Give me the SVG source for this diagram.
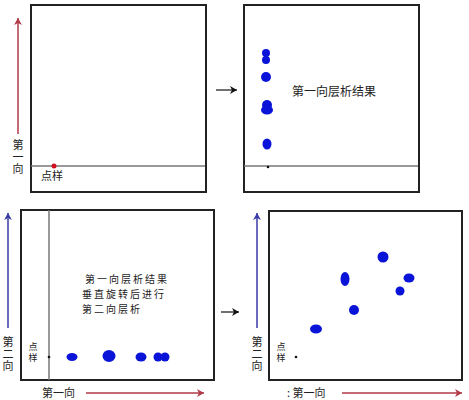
<svg xmlns="http://www.w3.org/2000/svg" width="469" height="400" viewBox="0 0 469 400">
<style>
.box{fill:#fff;stroke:#222;stroke-width:2}
.base{stroke:#777;stroke-width:1.5;fill:none}
.spot{fill:#0a14d8}
.t{font-family:"Noto Sans CJK SC","Noto Sans",sans-serif;font-size:11px;fill:#222}
.m{font-family:"Noto Sans CJK SC","Noto Sans",sans-serif;font-size:12px;fill:#222}
.m3{font-family:"Noto Sans CJK SC","Noto Sans",sans-serif;font-size:10px;letter-spacing:2px;fill:#222}
.v{font-family:"Noto Sans CJK SC","Noto Sans",sans-serif;font-size:11px;fill:#222;writing-mode:vertical-rl;letter-spacing:1px}
.vs{font-family:"Noto Sans CJK SC","Noto Sans",sans-serif;font-size:9px;fill:#222;writing-mode:vertical-rl;letter-spacing:2px}
.red{stroke:#b23a48;stroke-width:1.5;fill:none}
.blue{stroke:#3a3aa8;stroke-width:1.5;fill:none}
.blk{stroke:#111;stroke-width:1.2;fill:none}
</style>
<defs>
<marker id="hr" markerWidth="10" markerHeight="10" refX="8" refY="5" orient="auto" markerUnits="userSpaceOnUse"><path d="M1,1 L8,5 L1,9 L3,5 Z" fill="#b23a48"/></marker>
<marker id="hb" markerWidth="10" markerHeight="10" refX="8" refY="5" orient="auto" markerUnits="userSpaceOnUse"><path d="M1,1 L8,5 L1,9 L3,5 Z" fill="#3a3aa8"/></marker>
<marker id="hk" markerWidth="10" markerHeight="10" refX="8" refY="5" orient="auto" markerUnits="userSpaceOnUse"><path d="M1,1 L8,5 L1,9 L3,5 Z" fill="#111"/></marker>
</defs>
<rect width="469" height="400" fill="#fff"/>

<g id="panel1">
<rect class="box" x="31" y="5" width="175" height="187"/>
<line class="base" x1="31" y1="166" x2="205" y2="166"/>
<circle cx="54" cy="166" r="2.5" fill="#d01020"/>
<text class="t" x="41" y="180">点样</text>
</g>

<g id="panel2">
<rect class="box" x="244" y="5" width="175" height="187"/>
<line class="base" x1="244" y1="166" x2="418" y2="166"/>
<circle cx="268" cy="167" r="1.3" fill="#111"/>
<ellipse class="spot" cx="266" cy="53" rx="4" ry="4"/>
<ellipse class="spot" cx="266" cy="60" rx="4" ry="4"/>
<ellipse class="spot" cx="266" cy="77" rx="5" ry="5"/>
<ellipse class="spot" cx="267" cy="105" rx="5" ry="5"/>
<ellipse class="spot" cx="267" cy="110" rx="6" ry="4.5"/>
<ellipse class="spot" cx="267" cy="144" rx="4.5" ry="5.5"/>
<text class="m" x="292" y="96">第一向层析结果</text>
</g>

<g id="panel3">
<rect class="box" x="21" y="210" width="193" height="170"/>
<line class="base" x1="49" y1="210" x2="49" y2="380"/>
<circle cx="49" cy="357" r="1.3" fill="#111"/>
<text class="vs" x="33" y="342">点样</text>
<ellipse class="spot" cx="72" cy="357" rx="5.5" ry="4"/>
<ellipse class="spot" cx="109" cy="356" rx="6.5" ry="6"/>
<ellipse class="spot" cx="141" cy="357" rx="5.5" ry="4.5"/>
<ellipse class="spot" cx="158" cy="357" rx="4.5" ry="4.5"/>
<ellipse class="spot" cx="165" cy="357" rx="4.5" ry="4.5"/>
<text class="m3" x="85" y="283">第一向层析结果</text>
<text class="m3" x="82" y="297.8">垂直旋转后进行</text>
<text class="m3" x="82" y="312.6">第二向层析</text>
</g>

<g id="panel4">
<rect class="box" x="269" y="211" width="193" height="169"/>
<circle cx="296" cy="357" r="1.3" fill="#111"/>
<text class="vs" x="281" y="342">点样</text>
<ellipse class="spot" cx="316" cy="329" rx="6" ry="4.5"/>
<ellipse class="spot" cx="345" cy="279" rx="4.5" ry="7"/>
<ellipse class="spot" cx="354" cy="310" rx="5" ry="5"/>
<ellipse class="spot" cx="383" cy="257" rx="5.5" ry="5.5"/>
<ellipse class="spot" cx="400" cy="291" rx="4.5" ry="4.5"/>
<ellipse class="spot" cx="409" cy="278" rx="5.5" ry="4.5"/>
</g>

<g id="labels">
<text class="v" x="18" y="139">第一向</text>
<text class="v" x="8" y="336">第二向</text>
<text class="t" x="42" y="397">第一向</text>
<text class="v" x="257" y="336">第二向</text>
<text class="t" x="287" y="397">: 第一向</text>
</g>

<g id="connectors">
<line class="red" x1="18" y1="134" x2="18" y2="18" marker-end="url(#hr)"/>
<line class="blue" x1="8" y1="328" x2="8" y2="213" marker-end="url(#hb)"/>
<line class="red" x1="86" y1="393" x2="204" y2="393" marker-end="url(#hr)"/>
<line class="blue" x1="257" y1="328" x2="257" y2="213" marker-end="url(#hb)"/>
<line class="red" x1="342" y1="393" x2="462" y2="393" marker-end="url(#hr)"/>
<line class="blk" x1="216" y1="90" x2="237" y2="90" marker-end="url(#hk)"/>
<line class="blk" x1="221" y1="312" x2="239" y2="312" marker-end="url(#hk)"/>
</g>
</svg>
